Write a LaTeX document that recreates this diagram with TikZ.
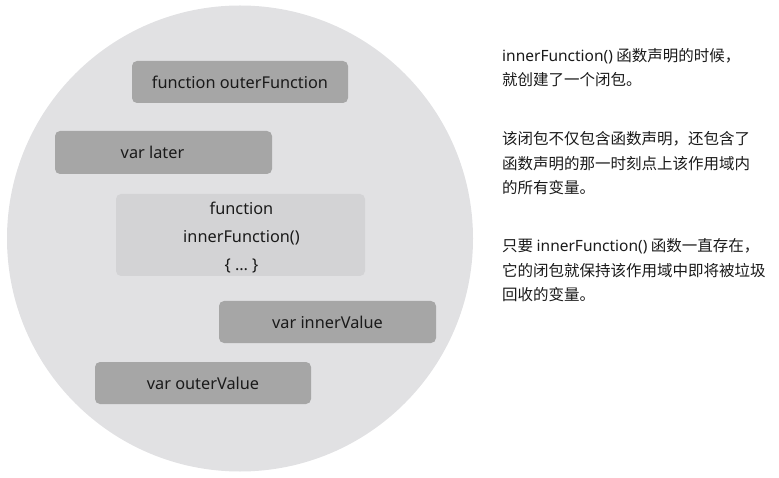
\documentclass[tikz,border=0pt]{standalone}
\usepackage{fontspec}
\setmainfont{Noto Sans}
\newfontfamily\cjk{Noto Sans CJK SC}
\newfontfamily\lat{Noto Sans}
\definecolor{circ}{HTML}{E1E1E3}
\definecolor{darkbox}{HTML}{A6A6A6}
\definecolor{lightbox}{HTML}{D3D3D5}
\definecolor{ink}{HTML}{1A1A1A}
\begin{document}
\begin{tikzpicture}[x=1pt,y=-1pt,
  box/.style={rectangle, rounded corners=5pt, fill=darkbox, inner sep=0pt,
    font=\fontsize{16.3}{19}\selectfont, text=ink},
  para/.style={anchor=base west, align=left, inner sep=0pt, text=ink,
    font=\cjk\fontsize{15.5}{24.5}\selectfont}]
\useasboundingbox (0,0) rectangle (779,478);
\node[circle, fill=circ, minimum size=466pt, inner sep=0pt] (c) at (240,238.5) {};
\node[box, minimum width=216pt, minimum height=42pt] (outer) at (240,82) {function outerFunction};
\node[box, minimum width=217pt, minimum height=43pt] (later) at (163.5,152.5) {var later\hspace*{22pt}};
\node[box, fill=lightbox, minimum width=249pt, minimum height=82pt, inner sep=0pt] (inner) at (240.5,235) {};
\node[align=center, inner sep=0pt, text=ink, font=\fontsize{16.3}{28}\selectfont] (innertext) at (241.5,238) {function\\innerFunction()\\\{ \ldots\ \}};
\node[box, minimum width=217pt, minimum height=42pt] (iv) at (327.5,322) {var innerValue};
\node[box, minimum width=216pt, minimum height=42pt] (ov) at (203,383) {var outerValue};
\node[para] (p1) at (502,86) {{\lat innerFunction()} 函数声明的时候，\\就创建了一个闭包。};
\node[para] (p2) at (502,194) {该闭包不仅包含函数声明，还包含了\\函数声明的那一时刻点上该作用域内\\的所有变量。};
\node[para] (p3) at (502,301) {只要 {\lat innerFunction()} 函数一直存在，\\它的闭包就保持该作用域中即将被垃圾\\回收的变量。};
\end{tikzpicture}
\end{document}
